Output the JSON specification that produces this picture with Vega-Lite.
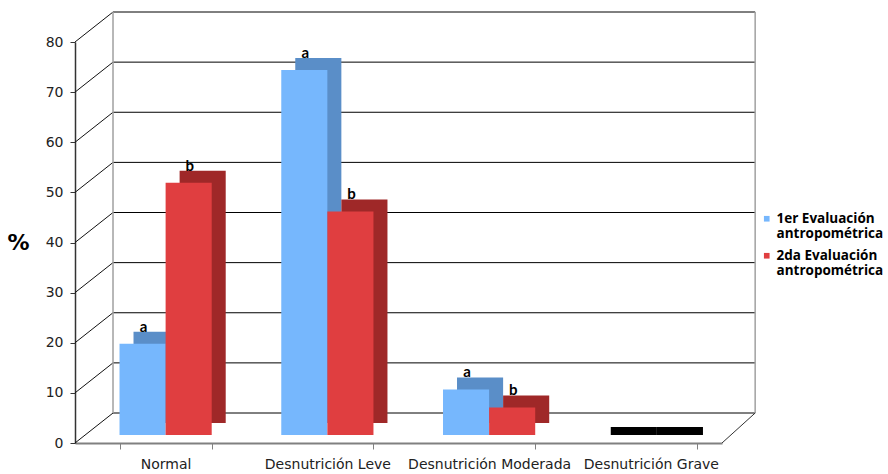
{
  "$schema": "https://vega.github.io/schema/vega-lite/v6.json",
  "width": 647,
  "height": 401,
  "autosize": {"type": "none"},
  "padding": {"left": 75, "top": 42, "right": 166, "bottom": 31},
  "background": "white",
  "config": {"view": {"stroke": null}, "legend": {"labelLineHeight": 16}},
  "datasets": {
    "bars": [
      {"categoria": "Normal", "serie": "1er Evaluación antropométrica", "valor": 18.2, "letra": "a"},
      {"categoria": "Normal", "serie": "2da Evaluación antropométrica", "valor": 50.3, "letra": "b"},
      {"categoria": "Desnutrición Leve", "serie": "1er Evaluación antropométrica", "valor": 72.8, "letra": "a"},
      {"categoria": "Desnutrición Leve", "serie": "2da Evaluación antropométrica", "valor": 44.6, "letra": "b"},
      {"categoria": "Desnutrición Moderada", "serie": "1er Evaluación antropométrica", "valor": 9.1, "letra": "a"},
      {"categoria": "Desnutrición Moderada", "serie": "2da Evaluación antropométrica", "valor": 5.5, "letra": "b"},
      {"categoria": "Desnutrición Grave", "serie": "1er Evaluación antropométrica", "valor": 0, "letra": ""},
      {"categoria": "Desnutrición Grave", "serie": "2da Evaluación antropométrica", "valor": 0, "letra": ""}
    ],
    "grid": [{"nivel": 0}, {"nivel": 10}, {"nivel": 20}, {"nivel": 30}, {"nivel": 40}, {"nivel": 50}, {"nivel": 60}, {"nivel": 70}, {"nivel": 80}],
    "uno": [{"k": 1}]
  },
  "resolve": {"scale": {"x": "independent"}, "axis": {"x": "independent"}},
  "layer": [
    {
      "layer": [
        {
          "data": {"name": "grid"},
          "mark": {"type": "rule", "color": "#000000", "strokeWidth": 1, "yOffset": -30, "y2Offset": -30},
          "encoding": {
            "x": {"datum": 0.235, "type": "quantitative", "scale": {"domain": [0, 4], "nice": false, "zero": false}, "axis": null},
            "x2": {"datum": 4.205},
            "y": {"field": "nivel", "type": "quantitative", "scale": {"domain": [0, 80], "nice": false},
              "axis": {"values": [0, 10, 20, 30, 40, 50, 60, 70, 80], "grid": false, "title": "%", "titleAngle": 0, "titleFontSize": 22, "titleFontWeight": "bold", "titleFont": "DejaVu Sans", "titleX": -57, "titleY": 200, "titleAlign": "center", "titleBaseline": "middle", "titleColor": "#000", "labelFont": "DejaVu Sans", "labelFontSize": 14, "labelColor": "#222", "labelPadding": 7, "tickSize": 5, "tickColor": "#333", "domainColor": "#333", "domainWidth": 1.5}}
          }
        },
        {
          "data": {"name": "grid"},
          "mark": {"type": "rule", "color": "#111111", "strokeWidth": 1, "y2Offset": -30},
          "encoding": {
            "x": {"datum": 0, "type": "quantitative"},
            "x2": {"datum": 0.235},
            "y": {"field": "nivel", "type": "quantitative"},
            "y2": {"field": "nivel"}
          }
        },
        {
          "data": {"name": "uno"},
          "mark": {"type": "rule", "color": "#a0a0a0", "strokeWidth": 1.5, "yOffset": -30, "y2Offset": -30},
          "encoding": {
            "x": {"datum": 0.235, "type": "quantitative"},
            "y": {"datum": 0, "type": "quantitative"},
            "y2": {"datum": 80}
          }
        },
        {
          "data": {"name": "uno"},
          "mark": {"type": "rule", "color": "#a0a0a0", "strokeWidth": 1.5, "yOffset": -30, "y2Offset": -30},
          "encoding": {
            "x": {"datum": 4.205, "type": "quantitative"},
            "y": {"datum": 0, "type": "quantitative"},
            "y2": {"datum": 80}
          }
        },
        {
          "data": {"name": "uno"},
          "mark": {"type": "rule", "color": "#333333", "strokeWidth": 1, "y2Offset": -30},
          "encoding": {
            "x": {"datum": 4, "type": "quantitative"},
            "x2": {"datum": 4.205},
            "y": {"datum": 0, "type": "quantitative"},
            "y2": {"datum": 0}
          }
        }
      ]
    },
    {
      "data": {"name": "bars"},
      "resolve": {"scale": {"xOffset": "independent"}},
      "layer": [
        {
          "transform": [{"filter": "datum.valor == 0"}],
          "mark": {"type": "bar", "yOffset": -12, "y2Offset": -12, "stroke": "#000000", "strokeWidth": 8, "color": "#000000"},
          "encoding": {
            "x": {"field": "categoria", "type": "nominal", "sort": null, "scale": {"domain": ["Normal", "Desnutrición Leve", "Desnutrición Moderada", "Desnutrición Grave"], "paddingInner": 0.43, "paddingOuter": 0.215, "align": 0.64},
              "axis": {"orient": "bottom", "title": null, "labelAngle": 0, "labelFont": "DejaVu Sans", "labelFontSize": 14, "labelColor": "#222", "labelPadding": 8, "labelOverlap": false, "labelBound": false, "domainColor": "#808080", "domainWidth": 2, "tickColor": "#808080", "tickBand": "extent", "tickSize": 6}},
            "xOffset": {"field": "serie", "type": "nominal", "sort": null, "scale": {"domain": ["1er Evaluación antropométrica", "2da Evaluación antropométrica"], "range": [6, 98.2]}},
            "y": {"field": "valor", "type": "quantitative"}
          }
        },
        {
          "mark": {"type": "bar", "yOffset": -20, "y2Offset": -20},
          "encoding": {
            "x": {"field": "categoria", "type": "nominal", "sort": null},
            "xOffset": {"field": "serie", "type": "nominal", "sort": null, "scale": {"range": [14, 106.2]}},
            "y": {"field": "valor", "type": "quantitative"},
            "color": {"condition": {"test": "datum.serie == '1er Evaluación antropométrica'", "value": "#5a8ec8"}, "value": "#9f2828"}
          }
        },
        {
          "mark": {"type": "bar", "yOffset": -8, "y2Offset": -8},
          "encoding": {
            "x": {"field": "categoria", "type": "nominal", "sort": null},
            "xOffset": {"field": "serie", "type": "nominal", "sort": null},
            "y": {"field": "valor", "type": "quantitative"},
            "color": {"field": "serie", "type": "nominal", "sort": null,
              "scale": {"range": ["#76b7fd", "#e03e40"]},
              "legend": {"title": null, "orient": "none", "legendX": 685, "legendY": 170, "symbolType": "square", "symbolSize": 32, "symbolStrokeWidth": 0, "labelFont": "Open Sans", "labelFontWeight": "bold", "labelFontSize": 13.5, "labelColor": "#000", "labelOffset": 3, "rowPadding": 7, "labelLimit": 200,
                "labelExpr": "datum.label == '1er Evaluación antropométrica' ? ['1er Evaluación', 'antropométrica'] : ['2da Evaluación', 'antropométrica']"}}
          }
        },
        {
          "mark": {"type": "text", "font": "Lato", "fontWeight": "bold", "fontSize": 15, "color": "#000", "baseline": "bottom", "dy": -17, "dx": 1},
          "encoding": {
            "x": {"field": "categoria", "type": "nominal", "sort": null},
            "xOffset": {"field": "serie", "type": "nominal", "sort": null},
            "y": {"field": "valor", "type": "quantitative"},
            "text": {"field": "letra"}
          }
        }
      ]
    }
  ]
}
